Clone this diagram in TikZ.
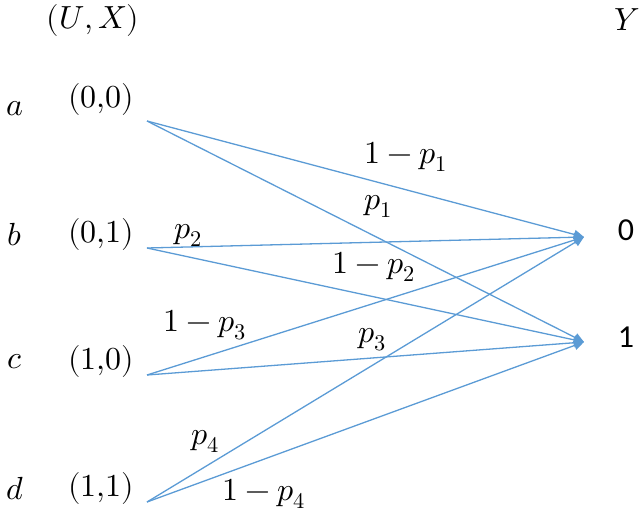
\documentclass[tikz,border=0pt]{standalone}
\usepackage{fontspec}
\usepackage{unicode-math}
\setmathfont{Latin Modern Math}
\newfontfamily\sansf{Carlito}
\usetikzlibrary{arrows.meta}
\definecolor{edgeblue}{RGB}{91,155,213}
\begin{document}
\begin{tikzpicture}[x=1pt,y=-1pt,
  txt/.style={inner sep=0pt,font=\fontsize{32}{36}\selectfont},
  outlabel/.style={inner sep=0pt,font=\sansf\fontsize{32}{36}\selectfont},
  ch/.style={draw=edgeblue,line width=1.3pt,-{Triangle[length=10pt,width=9pt]}}]
\useasboundingbox (0,0) rectangle (640,514);
% labels
\node[txt] (ux) at (93,20) {$(U,X)$};
\node[txt] (y) at (627,20) {$Y$};
\node[txt] (la) at (15,109) {$a$};
\node[txt] (lb) at (15,235) {$b$};
\node[txt] (lc) at (15,362) {$c$};
\node[txt] (ld) at (15,489) {$d$};
\node[txt] (ta) at (101,99) {$(0{,}0)$};
\node[txt] (tb) at (101,234) {$(0{,}1)$};
\node[txt] (tc) at (101,361) {$(1{,}0)$};
\node[txt] (td) at (101,488) {$(1{,}1)$};
\node[outlabel] (t0) at (626,230) {0};
\node[outlabel] (t1) at (626,337) {1};
% endpoints
\coordinate (a) at (147,121);
\coordinate (b) at (147,248);
\coordinate (c) at (147,375);
\coordinate (d) at (147,502);
\coordinate (y0) at (584,237);
\coordinate (y1) at (584,342);
% channels
\draw[ch] (a) -- (y0);
\draw[ch] (a) -- (y1);
\draw[ch] (b) -- (y0);
\draw[ch] (b) -- (y1);
\draw[ch] (c) -- (y0);
\draw[ch] (c) -- (y1);
\draw[ch] (d) -- (y0);
\draw[ch] (d) -- (y1);
% edge labels
\node[txt] (l1) at (406,157) {$1-p_1$};
\node[txt] (l2) at (378,206) {$p_1$};
\node[txt] (l3) at (188,235) {$p_2$};
\node[txt] (l4) at (374,267) {$1-p_2$};
\node[txt] (l5) at (205,325) {$1-p_3$};
\node[txt] (l6) at (372,340) {$p_3$};
\node[txt] (l7) at (205,441) {$p_4$};
\node[txt] (l8) at (264,494) {$1-p_4$};
\end{tikzpicture}
\end{document}
